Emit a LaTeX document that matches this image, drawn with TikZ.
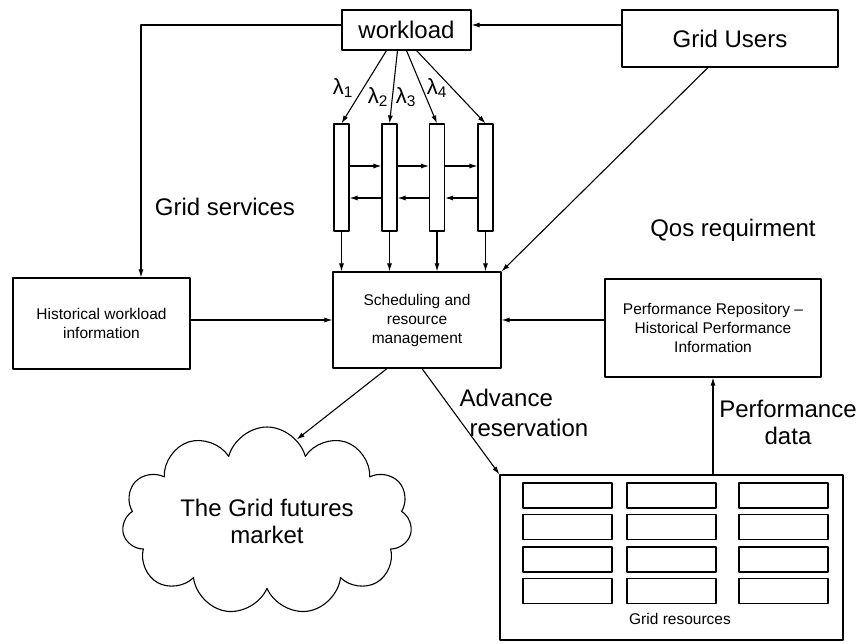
\documentclass[tikz,border=0pt]{standalone}
\usepackage{fontspec}
\setmainfont{Liberation Sans}
\usetikzlibrary{arrows.meta,shapes.symbols}

\begin{document}
\begin{tikzpicture}[x=1pt,y=-1pt,line join=round,line cap=round,>={Latex[length=8pt,width=5pt]},line width=1.1pt,
  box/.style={draw,inner sep=0pt,align=center,font=\fontsize{15.5}{19}\selectfont},
  bigbox/.style={draw,inner sep=0pt,font=\fontsize{24}{26}\selectfont},
  queue/.style={draw,minimum width=15pt,minimum height=107pt,inner sep=0pt},
  slot/.style={draw,minimum width=89pt,minimum height=25pt,inner sep=0pt},
  lbl/.style={align=center,inner sep=0pt,font=\fontsize{24}{27}\selectfont}]
    \useasboundingbox (0,0) rectangle (863,644);
    % boxes
    \node[bigbox,minimum width=129pt,minimum height=40pt] (wl) at (406.5,30) {workload};
    \node[bigbox,minimum width=216pt,minimum height=57pt] (users) at (730,38.5) {Grid Users};
    \foreach \i/\x in {1/341.5,2/389.5,3/437,4/485.5}
        \node[queue] (q\i) at (\x,177.5) {};
    \node[box,minimum width=168pt,minimum height=96pt] (sched) at (417,320) {Scheduling and\\resource\\management};
    \node[box,minimum width=177pt,minimum height=91pt] (hist) at (101.5,323.5) {Historical workload\\information};
    \node[box,minimum width=216pt,minimum height=98pt] (perf) at (713,328) {Performance Repository –\\Historical Performance\\Information};
    \node[draw,minimum width=343pt,minimum height=165pt,inner sep=0pt] (res) at (671.5,557.5) {};
    \foreach \cx [count=\c] in {567.5,671.5,783.5}
        \foreach \cy [count=\r] in {495.5,527,559.5,591}
            \node[slot] (slot\c\r) at (\cx,\cy) {};
    \node[inner sep=0pt,font=\fontsize{15.5}{19}\selectfont] (restxt) at (680,619) {Grid resources};
    \node[lbl,cloud,draw,cloud puffs=11,aspect=1.8,inner sep=2pt,minimum width=290pt,minimum height=160pt] (cloud) at (267,521) {The Grid futures\\market};
    % labels
    \node[lbl] (gserv) at (225,207) {Grid services};
    \node[lbl] (qos) at (733,230) {Qos requirment};
    \node[lbl,anchor=west] (adv1) at (459,398) {Advance};
    \node[lbl,anchor=west] (adv2) at (469,428) {reservation};
    \node[lbl] (perfdata) at (788,422) {Performance\\data};
    \foreach \i/\x/\y in {1/343/88,2/378/97,3/406/97,4/437/88}
        \node[inner sep=0pt,font=\fontsize{22}{24}\selectfont] (lam\i) at (\x,\y) {λ\textsubscript{\i}};
    % connectors
    \draw[->] ([yshift=13.5pt]users.west) -- ([yshift=5pt]wl.east);
    \draw[->] ([yshift=5pt]wl.west) -| ([xshift=39.5pt]hist.north);
    \foreach \i/\dx in {1/-20,2/-9,3/0,4/10}
        \draw[->] ([xshift=\dx pt]wl.south) -- (q\i.north);
    \foreach \i/\j in {1/2,2/3,3/4} {
        \draw[->] ([yshift=11.5pt]q\i.east) -- ([yshift=11.5pt]q\j.west);
        \draw[->] ([yshift=-20.5pt]q\j.west) -- ([yshift=-20.5pt]q\i.east);
    }
    \foreach \i in {1,...,4}
        \draw[->] (q\i.south) -- (q\i.south |- sched.north);
    \draw[->] ([xshift=-22pt]users.south) -- (sched.north east);
    \draw[->] (hist.east |- sched.west) -- (sched.west);
    \draw[->] (perf.west |- sched.east) -- (sched.east);
    \draw[->] ([xshift=-30pt]sched.south) -- (cloud.70);
    \draw[->] ([xshift=5pt]sched.south) -- (res.north west);
    \draw[->] (perf.south |- res.north) -- (perf.south);
\end{tikzpicture}
\end{document}
